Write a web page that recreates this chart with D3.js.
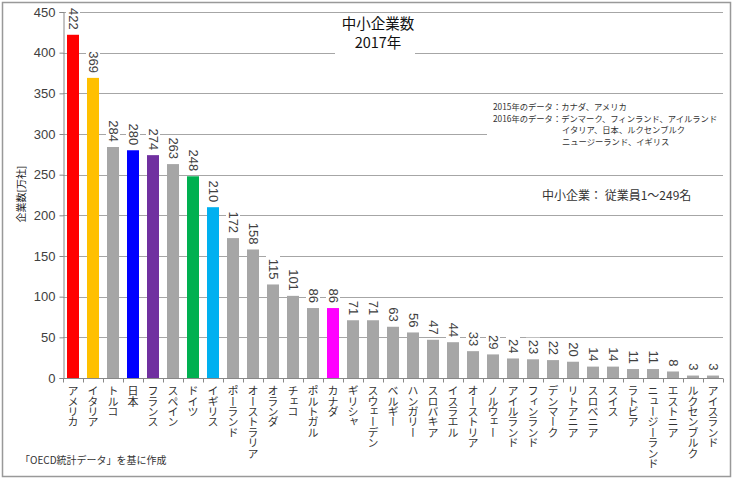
<!DOCTYPE html>
<html>
<head>
<meta charset="utf-8">
<script src="https://cdn.jsdelivr.net/npm/d3@7"></script>
<style>
body { margin:0; background:#fff; }
svg { display:block; }
text { font-family: "Liberation Sans", Arial, "Noto Sans CJK JP", sans-serif; }
.jp { font-family: "Noto Sans CJK JP", sans-serif; }
</style>
</head>
<body>
<div id="chart"></div>
<script>
// 中小企業数 2017年 (万社)
let countries = ["アメリカ","イタリア","トルコ","日本","フランス","スペイン","ドイツ","イギリス","ポーランド","オーストラリア","オランダ","チェコ","ポルトガル","カナダ","ギリシャ","スウェーデン","ベルギー","ハンガリー","スロバキア","イスラエル","オーストリア","ノルウェー","アイルランド","フィンランド","デンマーク","リトアニア","スロベニア","スイス","ラトビア","ニュージーランド","エストニア","ルクセンブルク","アイスランド"];
let values = [422,369,284,280,274,263,248,210,172,158,115,101,86,86,71,71,63,56,47,44,33,29,24,23,22,20,14,14,11,11,8,3,3];
let highlight = {"アメリカ":"#ff0000","イタリア":"#ffc000","日本":"#0000ff","フランス":"#7030a0","ドイツ":"#00b050","イギリス":"#00b0f0","カナダ":"#ff00ff"};
let yTicks = [0,50,100,150,200,250,300,350,400,450];
let notes = ["2015年のデータ：カナダ、アメリカ","2016年のデータ：デンマーク、フィンランド、アイルランド","イタリア、日本、ルクセンブルク","ニュージーランド、イギリス"];

let data = countries.map((c,i) => ({name:c, value:values[i]}));

let svg = d3.select('#chart').append('svg')
    .attr('width', 734).attr('height', 480);

svg.append('rect')
    .attr('x', 2.5).attr('y', 2.5).attr('width', 728).attr('height', 474)
    .attr('fill', '#fff').attr('stroke', '#999').attr('stroke-width', 1.5);

let x = d3.scaleBand().domain(countries).range([63, 723]).paddingInner(0.4).paddingOuter(0.2);
let y = d3.scaleLinear().domain([0, 450]).range([378, 12]);

// gridlines
svg.append('g').selectAll('line')
    .data(yTicks.slice(1))
    .join('line')
    .attr('x1', 63).attr('x2', 723)
    .attr('y1', d => Math.round(y(d)) + 0.5).attr('y2', d => Math.round(y(d)) + 0.5)
    .attr('stroke', '#a6a6a6').attr('stroke-width', 1);

// y axis
let yAxis = svg.append('g')
    .attr('transform', 'translate(63.5,0)')
    .call(d3.axisLeft(y).tickValues(yTicks).tickSize(4).tickPadding(4));
yAxis.select('.domain').attr('stroke', '#888');
yAxis.selectAll('.tick line').attr('stroke', '#888');
yAxis.selectAll('.tick text').attr('font-size', 13).attr('fill', '#404040')
    .attr('font-family', '"Liberation Sans", Arial, sans-serif');

// bars
svg.append('g').selectAll('rect')
    .data(data)
    .join('rect')
    .attr('x', d => x(d.name))
    .attr('width', x.bandwidth())
    .attr('y', d => y(d.value))
    .attr('height', d => y(0) - y(d.value))
    .attr('fill', d => highlight[d.name] || '#a6a6a6');

// x axis
let xAxisG = svg.append('g').attr('transform', 'translate(0,378.5)');
xAxisG.append('line').attr('x1', 63).attr('x2', 723).attr('stroke', '#888');
xAxisG.selectAll('line.tk')
    .data(d3.range(countries.length + 1))
    .join('line').attr('class', 'tk')
    .attr('x1', i => Math.round(63 + i * x.step()) + 0.5)
    .attr('x2', i => Math.round(63 + i * x.step()) + 0.5)
    .attr('y1', 0).attr('y2', 4).attr('stroke', '#888');
xAxisG.selectAll('text')
    .data(countries)
    .join('text')
    .attr('class', 'jp')
    .attr('x', d => x(d) + x.bandwidth() / 2)
    .attr('y', 7)
    .style('writing-mode', 'vertical-rl')
    .style('letter-spacing', '-0.6px')
    .attr('font-size', 11)
    .attr('fill', '#333')
    .text(d => d);

// value labels, rotated, with white background
let lab = svg.append('g').selectAll('g')
    .data(data)
    .join('g')
    .attr('transform', d => 'translate(' + (x(d.name) + x.bandwidth() / 2) + ',' + (y(d.value) - 5) + ') rotate(90)');
lab.append('rect')
    .attr('x', d => -String(d.value).length * 7.3 - 2)
    .attr('y', -7)
    .attr('width', d => String(d.value).length * 7.3 + 4)
    .attr('height', 14)
    .attr('fill', '#fff');
lab.append('text')
    .attr('text-anchor', 'end')
    .attr('dominant-baseline', 'central')
    .attr('font-size', 13)
    .attr('fill', '#404040')
    .text(d => d.value);

// y label
svg.append('text')
    .attr('class', 'jp')
    .attr('transform', 'translate(20,194) rotate(-90)')
    .attr('text-anchor', 'middle')
    .attr('dominant-baseline', 'central')
    .attr('font-size', 10)
    .attr('fill', '#222')
    .text('企業数[万社]');

// title
svg.append('rect').attr('x', 335).attr('y', 15).attr('width', 80).attr('height', 42).attr('fill', '#fff');
svg.append('text').attr('class', 'jp').attr('x', 378).attr('y', 29)
    .attr('text-anchor', 'middle').attr('font-size', 14.5).attr('fill', '#111').text('中小企業数');
svg.append('text').attr('class', 'jp').attr('x', 378).attr('y', 48)
    .attr('text-anchor', 'middle').attr('font-size', 14.5).attr('fill', '#111').text('2017年');

// notes
svg.append('rect').attr('x', 487).attr('y', 98).attr('width', 236).attr('height', 52).attr('fill', '#fff');
let noteX = [493, 493, 562, 562];
let noteY = [110, 121.5, 133, 144.5];
svg.append('g').selectAll('text')
    .data(notes)
    .join('text')
    .attr('class', 'jp')
    .attr('x', (d, i) => noteX[i])
    .attr('y', (d, i) => noteY[i])
    .attr('font-size', 8.3)
    .attr('fill', '#333')
    .text(d => d);

svg.append('text').attr('class', 'jp').attr('x', 542).attr('y', 200)
    .attr('font-size', 12).attr('fill', '#333').text('中小企業： 従業員1～249名');

// source
svg.append('text').attr('class', 'jp').attr('x', 20).attr('y', 464)
    .attr('font-size', 10).attr('fill', '#333').text('「OECD統計データ」を基に作成');
</script>
</body>
</html>
